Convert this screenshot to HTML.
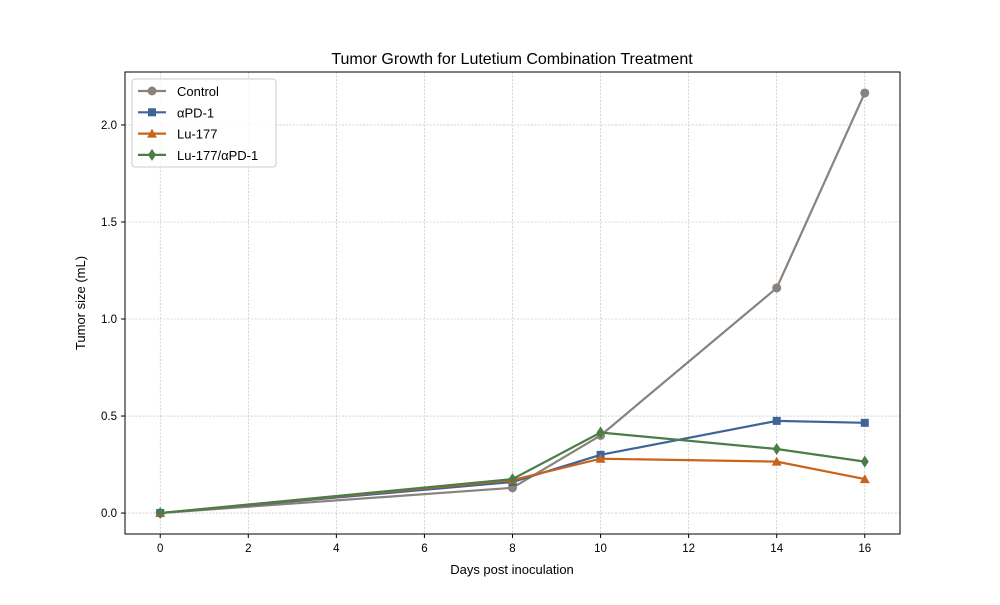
<!DOCTYPE html>
<html><head><meta charset="utf-8"><style>
body{margin:0;background:#fff;}
svg{font-family:"Liberation Sans","DejaVu Sans",sans-serif;}
</style></head><body>
<svg id="chart" width="1000" height="600" viewBox="0 0 1000 600" xmlns="http://www.w3.org/2000/svg">
<rect width="1000" height="600" fill="#fff"/>
<text x="512" y="64" text-anchor="middle" font-size="16">Tumor Growth for Lutetium Combination Treatment</text>
<g id="grid"></g>
<g id="axes"></g>
<g id="series"></g>
<rect x="125" y="72" width="775" height="462" fill="none" stroke="#000" stroke-width="1"/>
<text x="512" y="574" text-anchor="middle" font-size="13">Days post inoculation</text>
<text transform="translate(85,303) rotate(-90)" text-anchor="middle" font-size="13">Tumor size (mL)</text>
<g id="legend"></g>
</svg>
<script>
const days=[0,8,10,14,16];
const seriesNames=["Control","αPD-1","Lu-177","Lu-177/αPD-1"];
const control=[0,0.13,0.40,1.16,2.165];
const apd1=[0,0.16,0.30,0.475,0.465];
const lu177=[0,0.17,0.28,0.265,0.175];
const combo=[0,0.175,0.415,0.33,0.265];
const xTicks=[0,2,4,6,8,10,12,14,16];
const yTicks=[0,0.5,1.0,1.5,2.0];
const yTickLabels=["0.0","0.5","1.0","1.5","2.0"];

const L=125,R=900,T=72,B=534,xMin=-0.8,xMax=16.8,yMin=-0.108,yMax=2.273;
const X=v=>L+(v-xMin)/(xMax-xMin)*(R-L);
const Y=v=>B-(v-yMin)/(yMax-yMin)*(B-T);
const NS="http://www.w3.org/2000/svg";
function mk(tag,attrs,parent){const e=document.createElementNS(NS,tag);for(const k in attrs)e.setAttribute(k,attrs[k]);parent.appendChild(e);return e;}
const grid=document.getElementById('grid'),axes=document.getElementById('axes');
xTicks.forEach(t=>{
  const g=mk('line',{x1:X(t),x2:X(t),y1:T,y2:B,stroke:'#b8b8b8','stroke-width':0.6,'stroke-dasharray':'2,1.5'},grid);
  
  
  mk('line',{x1:X(t),x2:X(t),y1:B,y2:B+4,stroke:'#000'},axes);
  const tx=mk('text',{x:X(t),y:B+18,'text-anchor':'middle','font-size':11.5},axes);
  tx.textContent=t;
  
  
});
yTicks.forEach((t,i)=>{
  const g=mk('line',{x1:L,x2:R,y1:Y(t),y2:Y(t),stroke:'#b8b8b8','stroke-width':0.6,'stroke-dasharray':'2,1.5'},grid);
  
  
  mk('line',{x1:L-4,x2:L,y1:Y(t),y2:Y(t),stroke:'#000'},axes);
  const tx=mk('text',{x:L-8,y:Y(t)+4,'text-anchor':'end','font-size':11.5},axes);
  tx.textContent=yTickLabels[i];
  
  
});
const colors=['#8a827c','#3f6497','#c8641e','#4a7d48'];
const markers=['circle','square','triangle','diamond'];
const data=[control,apd1,lu177,combo];
function marker(type,x,y,c,parent){
  let e;
  if(type==='circle')e=mk('circle',{cx:x,cy:y,r:4.5,fill:c},parent);
  else if(type==='square')e=mk('rect',{x:x-4,y:y-4,width:8,height:8,fill:c},parent);
  else if(type==='triangle')e=mk('polygon',{points:`${x},${y-5} ${x-5},${y+4} ${x+5},${y+4}`,fill:c},parent);
  else e=mk('polygon',{points:`${x},${y-6} ${x-4},${y} ${x},${y+6} ${x+4},${y}`,fill:c},parent);
  return e;
}
const sg=document.getElementById('series');
data.forEach((arr,si)=>{
  const g=mk('g',{},sg);
  
  
  const pl=mk('polyline',{points:arr.map((v,i)=>X(days[i])+','+Y(v)).join(' '),fill:'none',stroke:colors[si],'stroke-width':2.2},g);
  
  
  arr.forEach((v,i)=>{
    const m=marker(markers[si],X(days[i]),Y(v),colors[si],g);
    
    
  });
});
const lg=document.getElementById('legend');
const box=mk('rect',{x:132,y:79,width:144,height:88,rx:3,fill:'#fff','fill-opacity':0.8,stroke:'#ccc'},lg);


seriesNames.forEach((n,i)=>{
  const y=91+i*21.3;
  const g=mk('g',{},lg);
  
  
  mk('line',{x1:138,x2:166,y1:y,y2:y,stroke:colors[i],'stroke-width':2.2},g);
  marker(markers[i],152,y,colors[i],g);
  const t=mk('text',{x:177,y:y+5,'font-size':13},g);
  t.textContent=n;
});
</script>
</body></html>
